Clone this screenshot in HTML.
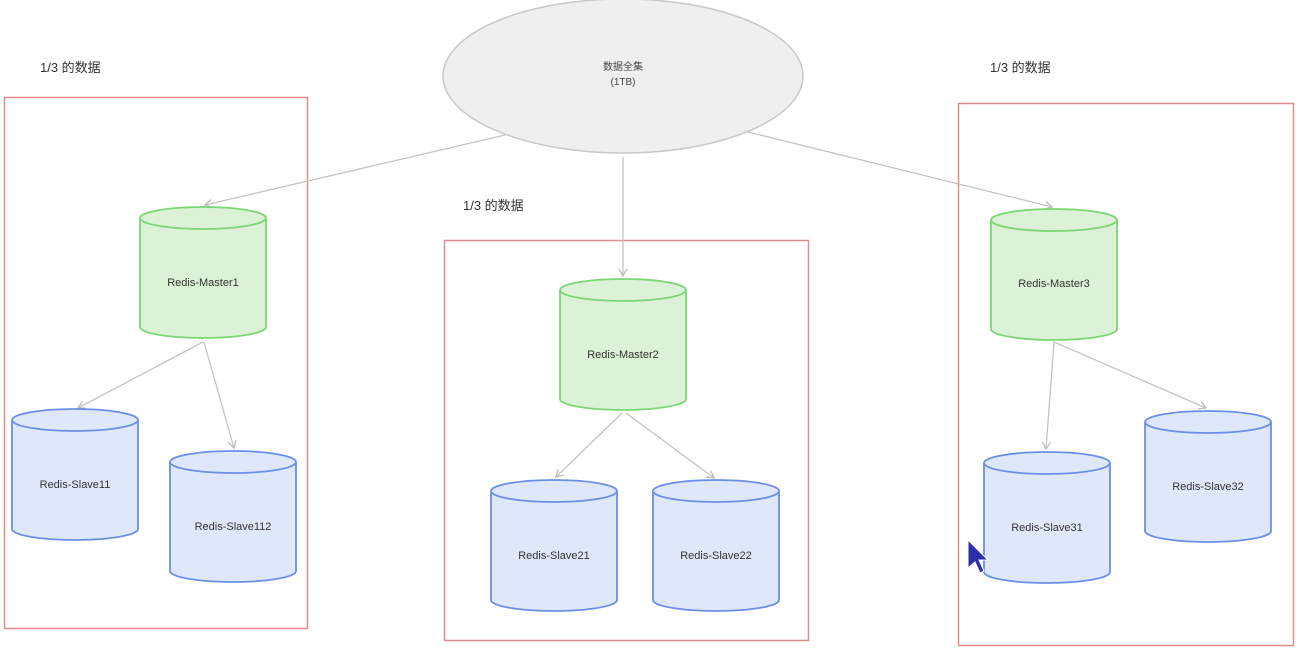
<!DOCTYPE html>
<html><head><meta charset="utf-8"><style>
html,body{margin:0;padding:0;background:#fff;}
svg{display:block;font-family:"Liberation Sans","Noto Sans CJK SC",sans-serif;}
</style></head><body>
<svg width="1302" height="657" viewBox="0 0 1302 657" xmlns="http://www.w3.org/2000/svg">
<defs>
<marker id="a" markerWidth="10" markerHeight="10" refX="8" refY="5" orient="auto" markerUnits="userSpaceOnUse">
<path d="M1,1 L8,5 L1,9" fill="none" stroke="#bbb" stroke-width="1.3"/>
</marker>
</defs>
<!-- boxes -->
<rect x="4.5" y="97.5" width="303" height="531" fill="none" stroke="#e38a8f" stroke-width="1.5"/>
<rect x="444.5" y="240.5" width="364" height="400" fill="none" stroke="#e38a8f" stroke-width="1.5"/>
<rect x="958.5" y="103.5" width="335" height="542" fill="none" stroke="#e38a8f" stroke-width="1.5"/>
<g font-size="13" fill="#333">
<text x="40" y="72">1/3 的数据</text>
<text x="463" y="210">1/3 的数据</text>
<text x="990" y="72">1/3 的数据</text>
</g>
<!-- ellipse -->
<ellipse cx="623" cy="76" rx="180" ry="77" fill="#efefef" stroke="#c8c8c8" stroke-width="1.5"/>
<text x="623" y="70" font-size="10" text-anchor="middle" fill="#444">数据全集</text>
<text x="623" y="85" font-size="10" text-anchor="middle" fill="#444">(1TB)</text>
<!-- arrows -->
<g stroke="#c4c4c4" stroke-width="1.3" fill="none" marker-end="url(#a)">
<line x1="505" y1="135" x2="205" y2="205"/>
<line x1="623" y1="157" x2="623" y2="276"/>
<line x1="748" y1="132" x2="1052" y2="207"/>
<line x1="203" y1="342" x2="78" y2="408"/>
<line x1="204" y1="342" x2="234" y2="448"/>
<line x1="622" y1="413" x2="556" y2="477"/>
<line x1="626" y1="413" x2="714" y2="478"/>
<line x1="1054" y1="342" x2="1046" y2="449"/>
<line x1="1054" y1="342" x2="1206" y2="408"/>
</g>
<!-- cylinders -->
<g stroke-width="1.8">
<g fill="#dbf2d6" stroke="#7bd673">
<path d="M140,218 v109 a63,11 0 0 0 126,0 v-109 a63,11 0 0 0 -126,0 a63,11 0 0 0 126,0"/>
<path d="M560,290 v109 a63,11 0 0 0 126,0 v-109 a63,11 0 0 0 -126,0 a63,11 0 0 0 126,0"/>
<path d="M991,220 v109 a63,11 0 0 0 126,0 v-109 a63,11 0 0 0 -126,0 a63,11 0 0 0 126,0"/>
</g>
<g fill="#dfe8fb" stroke="#6b8fe6">
<path d="M12,420 v109 a63,11 0 0 0 126,0 v-109 a63,11 0 0 0 -126,0 a63,11 0 0 0 126,0"/>
<path d="M170,462 v109 a63,11 0 0 0 126,0 v-109 a63,11 0 0 0 -126,0 a63,11 0 0 0 126,0"/>
<path d="M491,491 v109 a63,11 0 0 0 126,0 v-109 a63,11 0 0 0 -126,0 a63,11 0 0 0 126,0"/>
<path d="M653,491 v109 a63,11 0 0 0 126,0 v-109 a63,11 0 0 0 -126,0 a63,11 0 0 0 126,0"/>
<path d="M984,463 v109 a63,11 0 0 0 126,0 v-109 a63,11 0 0 0 -126,0 a63,11 0 0 0 126,0"/>
<path d="M1145,422 v109 a63,11 0 0 0 126,0 v-109 a63,11 0 0 0 -126,0 a63,11 0 0 0 126,0"/>
</g>
</g>
<g font-size="11" fill="#333" text-anchor="middle">
<text x="203" y="286">Redis-Master1</text>
<text x="623" y="358">Redis-Master2</text>
<text x="1054" y="287">Redis-Master3</text>
<text x="75" y="488">Redis-Slave11</text>
<text x="233" y="530">Redis-Slave112</text>
<text x="554" y="559">Redis-Slave21</text>
<text x="716" y="559">Redis-Slave22</text>
<text x="1047" y="531">Redis-Slave31</text>
<text x="1208" y="490">Redis-Slave32</text>
</g>
<!-- cursor -->
<path d="M968,540 L968,568 L975,562 L980,573 L984,571 L979,560 L988,560 Z" fill="#2b2fa8" stroke="#fff" stroke-width="1"/>
</svg>
</body></html>
